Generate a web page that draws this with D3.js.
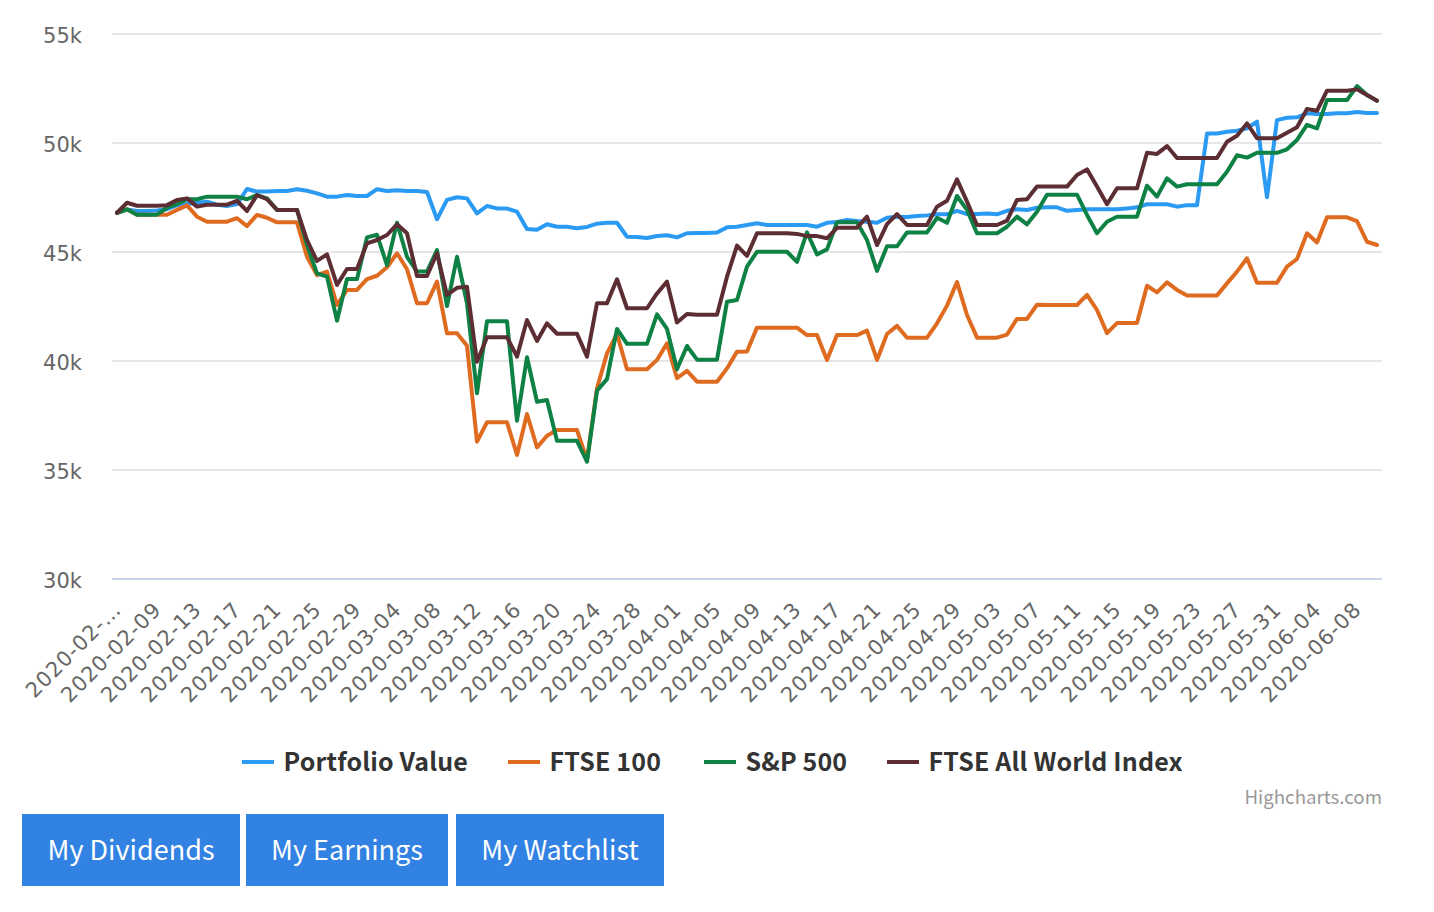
<!DOCTYPE html>
<html><head><meta charset="utf-8">
<script src="https://cdn.jsdelivr.net/npm/d3@7"></script>
<style>
html,body{margin:0;padding:0;background:#fff;}
svg{display:block;position:absolute;left:0;top:0;}
.btn{position:absolute;top:814px;height:72px;line-height:70px;background:#3182e2;color:#fff;text-align:center;font-family:"Noto Sans CJK SC","Noto Sans",sans-serif;font-size:27px;}
</style></head><body>
<svg id="chart" width="1434" height="912"></svg>
<div id="buttons"></div>
<script>
const seriesNames = ["Portfolio Value","FTSE 100","S&P 500","FTSE All World Index"];
const seriesColors = ["#2b9af3","#de6b20","#0e8145","#5c2e33"];
const buttonNames = ["My Dividends","My Earnings","My Watchlist"];
const yTicks = [30000,35000,40000,45000,50000,55000];
const xTickLabels = ["2020-02-…","2020-02-09","2020-02-13","2020-02-17","2020-02-21","2020-02-25","2020-02-29","2020-03-04","2020-03-08","2020-03-12","2020-03-16","2020-03-20","2020-03-24","2020-03-28","2020-04-01","2020-04-05","2020-04-09","2020-04-13","2020-04-17","2020-04-21","2020-04-25","2020-04-29","2020-05-03","2020-05-07","2020-05-11","2020-05-15","2020-05-19","2020-05-23","2020-05-27","2020-05-31","2020-06-04","2020-06-08"];

const portfolio = [46800,46950,46880,46880,46900,46960,47150,47200,47260,47310,
47170,47110,47200,47890,47770,47770,47800,47800,47880,47810,
47690,47540,47540,47610,47570,47570,47880,47800,47830,47800,
47800,47750,46500,47390,47510,47460,46770,47110,47000,46990,
46850,46050,46020,46270,46160,46160,46090,46150,46300,46340,
46340,45700,45690,45640,45730,45770,45670,45860,45870,45870,
45890,46130,46160,46240,46320,46240,46240,46240,46240,46240,
46160,46340,46380,46470,46420,46390,46340,46570,46620,46610,
46650,46680,46730,46730,46890,46740,46740,46770,46730,46890,
46960,46930,47030,47050,47050,46890,46930,46960,46960,46960,
46960,47000,47050,47190,47190,47190,47080,47150,47150,50440,
50440,50520,50560,50670,50980,47510,51050,51160,51180,51360,
51330,51330,51360,51360,51420,51380,51380];

const ftse100 = [46800,46960,46710,46710,46710,46710,46930,47140,46620,46390,
46390,46390,46550,46190,46700,46570,46360,46360,46360,44780,
43940,44100,42570,43260,43260,43760,43910,44300,44940,44210,
42650,42650,43640,41270,41270,40700,36300,37190,37190,37190,
35690,37570,36040,36570,36830,36830,36830,35460,38750,40350,
41240,39620,39620,39620,40050,40810,39210,39550,39050,39050,
39050,39660,40430,40440,41530,41530,41530,41530,41530,41190,
41190,40050,41190,41190,41190,41390,40050,41240,41610,41070,
41070,41070,41730,42540,43620,42110,41070,41070,41070,41210,
41930,41930,42580,42570,42570,42570,42570,43030,42340,41280,
41740,41740,41740,43450,43150,43610,43260,43010,43010,43010,
43010,43560,44100,44710,43590,43590,43590,44330,44680,45860,
45440,46590,46590,46590,46420,45470,45320];

const sp500 = [46800,46960,46710,46710,46710,47030,47200,47420,47420,47540,
47540,47540,47540,47420,47610,47460,46930,46930,46930,45320,
44020,43870,41850,43760,43760,45670,45790,44400,46340,44780,
44100,44100,45090,42520,44780,42650,38520,41820,41820,41820,
37260,40170,38130,38210,36340,36340,36340,35380,38640,39170,
41470,40790,40790,40790,42140,41470,39620,40690,40060,40060,
40060,42720,42800,44330,45010,45010,45010,45010,44550,45900,
44890,45120,46360,46360,46360,45550,44130,45260,45260,45900,
45900,45900,46570,46340,47570,46930,45860,45860,45860,46160,
46620,46270,46850,47630,47630,47630,47630,46700,45860,46390,
46620,46620,46620,48040,47540,48380,48000,48110,48110,48110,
48110,48680,49440,49330,49550,49550,49550,49710,50140,50830,
50670,51970,51970,51970,52610,52200,51940];

const allWorld = [46800,47260,47120,47120,47120,47150,47390,47460,47080,47170,
47170,47170,47350,46880,47610,47420,46930,46930,46930,45550,
44590,44890,43490,44220,44220,45400,45550,45780,46270,45860,
43900,43900,44940,43030,43360,43410,39970,41090,41090,41090,
40200,41880,40920,41730,41250,41250,41250,40200,42650,42650,
43750,42420,42420,42420,43100,43640,41770,42160,42120,42120,
42120,43870,45290,44820,45860,45860,45860,45860,45830,45730,
45730,45630,46110,46110,46110,46620,45320,46280,46740,46240,
46240,46240,47080,47350,48330,47310,46240,46240,46240,46440,
47390,47420,48000,48000,48000,48000,48530,48790,48000,47190,
47920,47920,47920,49550,49500,49860,49310,49310,49310,49310,
49310,50060,50330,50900,50220,50220,50220,50470,50720,51560,
51480,52400,52400,52400,52460,52200,51940];

const seriesValues = [portfolio,ftse100,sp500,allWorld];
const startDay = new Date(2020,1,5);
const categories = portfolio.map((_,i)=>d3.timeFormat("%Y-%m-%d")(d3.timeDay.offset(startDay,i)));
const tickCats = categories.filter((_,i)=>i%4===0);

const svg = d3.select("#chart");
const x = d3.scalePoint().domain(categories).range([117,1377]);
const y = d3.scaleLinear().domain([30000,55000]).range([579,34]);

const tickFont = '"DejaVu Sans",sans-serif';
// y axis + grid
const yAxis = d3.axisLeft(y).tickValues(yTicks).tickSize(0).tickPadding(0)
  .tickFormat(d=>(d/1000)+"k");
const gy = svg.append("g").attr("transform","translate(82,0)").call(yAxis);
gy.select(".domain").remove();
gy.selectAll("text").attr("fill","#666").attr("dy",null).attr("y",8)
  .style("font-family",tickFont).style("font-size","21px");
svg.append("g").selectAll("line").data(yTicks).join("line")
  .attr("x1",112).attr("x2",1382).attr("y1",d=>y(d)).attr("y2",d=>y(d))
  .attr("stroke",d=>d===30000?"#ccd6eb":"#e6e6e6").attr("stroke-width",2);

// x axis
const xAxis = d3.axisBottom(x).tickValues(tickCats).tickSize(0)
  .tickFormat((d,i)=>xTickLabels[i]);
const gx = svg.append("g").attr("transform","translate(0,579)").call(xAxis);
gx.select(".domain").remove();
gx.selectAll("text").attr("fill","#666").attr("text-anchor","end")
  .attr("dy",null).attr("y",0).attr("x",0)
  .attr("transform","translate(5,32) rotate(-45)")
  .style("font-family",tickFont).style("font-size","21px").style("letter-spacing","0.9px");

// lines
const line = (vals)=>d3.line().x((d,i)=>x(categories[i])).y(d=>y(d))(vals);
svg.append("g").selectAll("path").data(seriesValues).join("path")
  .attr("d",line).attr("fill","none").attr("stroke",(d,i)=>seriesColors[i])
  .attr("stroke-width",4).attr("stroke-linejoin","round").attr("stroke-linecap","round");

// legend
const legendSymbolX = [242,508,704,887];
const lg = svg.append("g").selectAll("g").data(seriesNames).join("g")
  .attr("transform",(d,i)=>`translate(${legendSymbolX[i]},762)`);
lg.append("line").attr("x1",0).attr("x2",32).attr("y1",0).attr("y2",0)
  .attr("stroke",(d,i)=>seriesColors[i]).attr("stroke-width",4);
lg.append("text").attr("x",41.5).attr("y",9).text(d=>d).attr("fill","#333")
  .style("font-family",'"Noto Sans CJK SC","Noto Sans",sans-serif')
  .style("font-size","25px").style("font-weight","700").style("letter-spacing","0.15px");

// credit
svg.append("text").attr("x",1382).attr("y",804).attr("text-anchor","end").text("Highcharts.com")
  .attr("fill","#999").style("font-family",'"Noto Sans CJK SC","Noto Sans",sans-serif').style("font-size","18.7px");

// buttons
const buttonLeft=[22,246,456], buttonWidth=[218,202,208];
d3.select("#buttons").selectAll("div").data(buttonNames).join("div").attr("class","btn")
  .style("left",(d,i)=>buttonLeft[i]+"px").style("width",(d,i)=>buttonWidth[i]+"px").text(d=>d);
</script>
</body></html>
